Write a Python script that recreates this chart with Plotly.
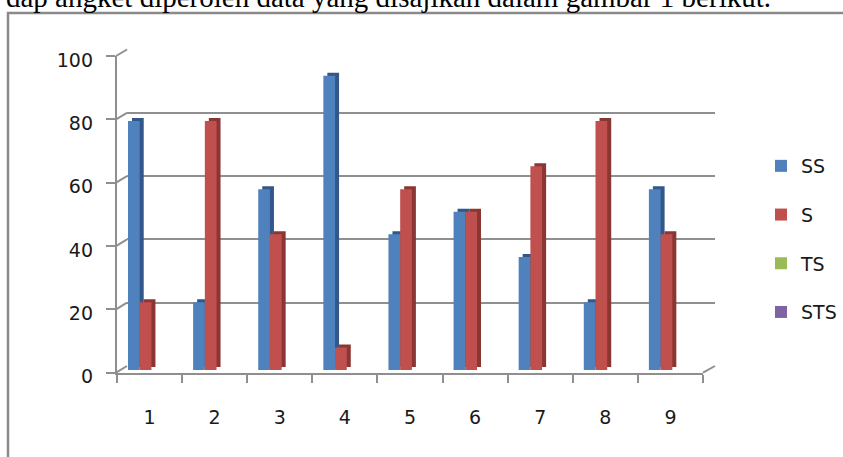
import plotly.graph_objects as go

# ---- data -------------------------------------------------------------
categories = ["1", "2", "3", "4", "5", "6", "7", "8", "9"]
series_names = ["SS", "S", "TS", "STS"]
ss = [78.6, 21.4, 57.1, 92.9, 42.9, 50.0, 35.7, 21.4, 57.1]
s = [21.4, 78.6, 42.9, 7.1, 57.1, 50.0, 64.3, 78.6, 42.9]
ts = [0, 0, 0, 0, 0, 0, 0, 0, 0]
sts = [0, 0, 0, 0, 0, 0, 0, 0, 0]
y_ticks = [0, 20, 40, 60, 80, 100]
series_values = [ss, s, ts, sts]

face_colors = ["#4F81BD", "#C0504D", "#9BBB59", "#8064A2"]
side_colors = ["#33578A", "#8A3634", "#71893F", "#5C4776"]

# ---- page geometry (pixels) -------------------------------------------
W, H = 843, 457


def fx(p):
    return p / W


def fy(p):
    return 1 - p / H


GRID = "#8f8f8f"
TEXT = "#1a1a1a"
SANS = "DejaVu Sans"

# front axes box
FX0, FX1 = 117, 703
FY0, FY100 = 372.7, 56.0
# back wall (gridlines), shifted up/right for the 3-D look
BX0, BX1 = 127, 715
BY0, BY100 = 366.0, 49.5
# bars sit between the front and back planes
CY0 = 370.0
SCALE = (FY0 - FY100) / 100.0
DEPTH_DX, DEPTH_DY = 4, 3
# value labels sit a little below their tick marks
LABEL_DY = 4

BAR_W = 0.18
FIRST_OFFSET = -0.331

fig = go.Figure()

# back wall: holds only the horizontal gridlines
fig.add_trace(go.Scatter(x=categories, y=[None] * len(categories), xaxis="x", yaxis="y",
                         showlegend=False, hoverinfo="skip"))

# darker copies of each column, pushed back to form the side and top faces
for k, vals in enumerate(series_values):
    fig.add_trace(go.Bar(x=categories, y=vals, xaxis="x2", yaxis="y2",
                         width=BAR_W, offset=FIRST_OFFSET + k * BAR_W,
                         marker=dict(color=side_colors[k], line=dict(width=0)),
                         showlegend=False, hoverinfo="skip"))

# front faces of the columns
for k, (name, vals) in enumerate(zip(series_names, series_values)):
    fig.add_trace(go.Bar(x=categories, y=vals, xaxis="x3", yaxis="y3", name=name,
                         legendgroup=name,
                         width=BAR_W, offset=FIRST_OFFSET + k * BAR_W,
                         marker=dict(color=face_colors[k], line=dict(width=0))))

# front axes: lines, tick marks and category labels
fig.add_trace(go.Scatter(x=categories, y=[None] * len(categories), xaxis="x4", yaxis="y4",
                         showlegend=False, hoverinfo="skip"))
# value-axis labels
fig.add_trace(go.Scatter(x=categories, y=[None] * len(categories), xaxis="x5", yaxis="y5",
                         showlegend=False, hoverinfo="skip"))

hidden = dict(visible=False, fixedrange=True, automargin=False)

fig.update_layout(
    template="none",
    width=W, height=H,
    margin=dict(l=0, r=0, t=0, b=0, autoexpand=False),
    paper_bgcolor="white", plot_bgcolor="rgba(0,0,0,0)",
    barmode="overlay",
    showlegend=True,
    xaxis=dict(domain=[fx(BX0), fx(BX1)], anchor="y", type="category",
               range=[-0.5, len(categories) - 0.5], **hidden),
    yaxis=dict(domain=[fy(BY0), fy(BY100)], anchor="x", range=[0, 100],
               tickvals=y_ticks, showgrid=True, gridcolor=GRID, gridwidth=2,
               showticklabels=False, ticks="", zeroline=False, showline=False,
               fixedrange=True, automargin=False),
    xaxis2=dict(domain=[fx(FX0 + DEPTH_DX), fx(FX1 + DEPTH_DX)], anchor="y2", type="category",
                range=[-0.5, len(categories) - 0.5], **hidden),
    yaxis2=dict(domain=[fy(CY0 - DEPTH_DY), fy(CY0 - DEPTH_DY - 100 * SCALE)], anchor="x2",
                range=[0, 100], **hidden),
    xaxis3=dict(domain=[fx(FX0), fx(FX1)], anchor="y3", type="category",
                range=[-0.5, len(categories) - 0.5], **hidden),
    yaxis3=dict(domain=[fy(CY0), fy(CY0 - 100 * SCALE)], anchor="x3",
                range=[0, 100], **hidden),
    xaxis4=dict(domain=[fx(FX0), fx(FX1)], anchor="y4", type="category",
                range=[-0.5, len(categories) - 0.5],
                showline=True, linecolor=GRID, linewidth=2,
                ticks="outside", tickson="boundaries", ticklen=8, tickwidth=2,
                tickcolor=GRID, showgrid=False, zeroline=False,
                tickfont=dict(family=SANS, size=19, color=TEXT),
                ticklabelstandoff=26, fixedrange=True, automargin=False),
    yaxis4=dict(domain=[fy(FY0), fy(FY100)], anchor="x4", range=[0, 100],
                tickvals=y_ticks, showline=True, linecolor=GRID, linewidth=2,
                ticks="outside", ticklen=9, tickwidth=2, tickcolor=GRID,
                showgrid=False, zeroline=False, showticklabels=False,
                fixedrange=True, automargin=False),
    xaxis5=dict(domain=[fx(FX0), fx(FX1)], anchor="y5", type="category",
                range=[-0.5, len(categories) - 0.5], **hidden),
    yaxis5=dict(domain=[fy(FY0 + LABEL_DY), fy(FY100 + LABEL_DY)], anchor="x5",
                range=[0, 100], tickvals=y_ticks, showline=False, ticks="",
                showgrid=False, zeroline=False,
                tickfont=dict(family=SANS, size=19, color=TEXT),
                ticklabelstandoff=23, fixedrange=True, automargin=False),
    legend=dict(x=fx(761), y=fy(147), xanchor="left", yanchor="top",
                font=dict(family=SANS, size=19, color=TEXT),
                tracegroupgap=21, bgcolor="rgba(0,0,0,0)", itemclick=False),
)

# receding edges joining the front axes to the back wall
shapes = []
for v in y_ticks:
    shapes.append(dict(type="line", xref="paper", yref="paper",
                       x0=fx(FX0 - 1), y0=fy(FY0 - v * SCALE),
                       x1=fx(BX0), y1=fy(BY0 - v * (BY0 - BY100) / 100.0),
                       line=dict(color=GRID, width=2)))
shapes.append(dict(type="line", xref="paper", yref="paper",
                   x0=fx(FX1), y0=fy(FY0), x1=fx(BX1), y1=fy(BY0),
                   line=dict(color=GRID, width=2)))
# outer frame of the figure
shapes.append(dict(type="rect", xref="paper", yref="paper",
                   x0=fx(8), y0=-0.2, x1=1.2, y1=fy(13),
                   line=dict(color="#8a8a8a", width=2.5), fillcolor="rgba(0,0,0,0)"))
fig.update_layout(shapes=shapes)

# running text above the figure
fig.add_annotation(text="dap angket diperoleh data yang disajikan dalam gambar 1 berikut.",
                   xref="paper", yref="paper", x=fx(773), y=fy(15),
                   xanchor="right", yanchor="bottom", showarrow=False,
                   font=dict(family="Liberation Serif", size=29, color="#000000"))

fig.write_html("out.html")
